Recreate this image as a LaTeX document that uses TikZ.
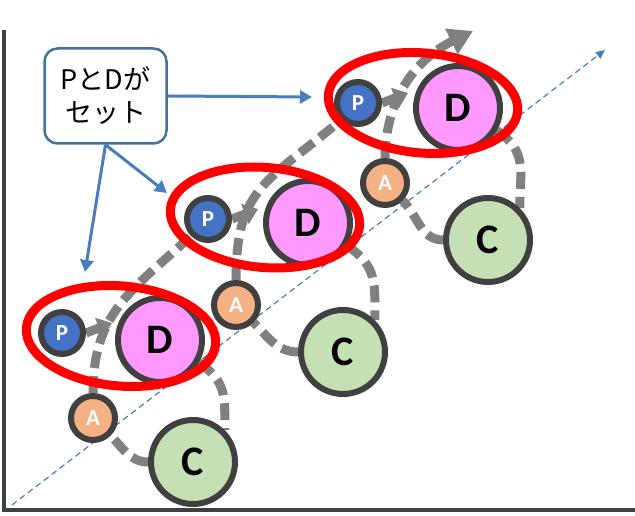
\documentclass[tikz,border=0pt]{standalone}
\usepackage{fontspec}
\setmainfont{Carlito}
\newfontfamily\jpfont{Noto Sans CJK JP}
\usetikzlibrary{arrows.meta, shapes.geometric, backgrounds}
\definecolor{pblue}{HTML}{4472C4}
\definecolor{dpink}{HTML}{FF99FF}
\definecolor{aorange}{HTML}{F4B183}
\definecolor{cgreen}{HTML}{C5E0B4}
\definecolor{rim}{HTML}{404040}
\definecolor{flowgray}{HTML}{808080}
\definecolor{noteblue}{HTML}{41719C}
\definecolor{arrowblue}{HTML}{4A7EBB}

\begin{document}
\begin{tikzpicture}[x=1pt, y=1pt,
	ball/.style={circle, draw=rim, line width=6pt, inner sep=0pt},
	smallball/.style={ball, minimum size=42pt, text=white, font=\bfseries\fontsize{23}{23}\selectfont},
	bigball/.style={ball, minimum size=84pt, font=\bfseries\fontsize{42}{42}\selectfont},
	setring/.style={ellipse, draw=red, line width=9pt, minimum width=190pt, minimum height=100pt, inner sep=0pt, rotate=-5},
	flow/.style={draw=flowgray, line width=9pt, dash pattern=on 17pt off 8pt},
	push/.style={draw=flowgray, line width=9pt, -{Triangle[length=14pt, width=21pt]}},
	callout/.style={draw=arrowblue, line width=3pt, -{Triangle[length=12pt, width=13pt]}}]
	\useasboundingbox (0,0) rectangle (635,516);

	% free ends
	\coordinate (ytop) at (4,486);
	\coordinate (orig) at (4,6);
	\coordinate (xend) at (635,6);
	\coordinate (o1) at (12,11);
	\coordinate (o2) at (605,466);
	\coordinate (top) at (473,485);
	\coordinate (j1) at (112,193);
	\coordinate (j2) at (258,307);
	\coordinate (j3) at (408,423);
	\coordinate (t1) at (312,419);
	\coordinate (t2) at (167,323);
	\coordinate (t3) at (85,244);

	% axes
	\draw[rim, line width=4.5pt] (ytop) -- (orig) -- (xend);

	% first set
	\node[smallball, fill=pblue] (P1) at (62,183) {P};
	\node[bigball, fill=dpink] (D1) at (160,176) {D};
	\node[smallball, fill=aorange, minimum size=44pt] (A1) at (93,98) {A};
	\node[bigball, fill=cgreen] (C1) at (193,54) {C};

	% second set
	\node[smallball, fill=pblue] (P2) at (208,297) {P};
	\node[bigball, fill=dpink] (D2) at (308,293) {D};
	\node[smallball, fill=aorange, minimum size=44pt] (A2) at (236,211) {A};
	\node[bigball, fill=cgreen] (C2) at (343,164) {C};

	% third set
	\node[smallball, fill=pblue] (P3) at (358,413) {P};
	\node[bigball, fill=dpink] (D3) at (458,408) {D};
	\node[smallball, fill=aorange, minimum size=44pt] (A3) at (385,333) {A};
	\node[bigball, fill=cgreen] (C3) at (488,276) {C};

	\node[setring] (S1) at (121,180) {};
	\node[setring] (S2) at (265,298.5) {};
	\node[setring] (S3) at (423,413) {};

	\begin{scope}[on background layer]
		\draw[arrowblue, line width=1.2pt, dash pattern=on 6pt off 4pt, -{Triangle[length=9pt, width=8pt]}] (o1) -- (o2);

		\draw[flow] (D1.-30) to[out=-35, in=90, looseness=1.2] (C1.45);
		\draw[flow] (C1.180) to[out=180, in=-45] (A1.-45);
		\draw[flow] (A1.north) .. controls +(0,80) and +(-60,-55) .. (P2.225);
		\draw[push] (P1.east) -- (j1);

		\draw[flow] (D2.-30) to[out=-35, in=90, looseness=1.2] (C2.45);
		\draw[flow] (C2.180) to[out=180, in=-45] (A2.-45);
		\draw[flow] (A2.north) .. controls +(0,94) and +(-73,-62) .. (P3.225);
		\draw[push] (P2.east) -- (j2);

		\draw[flow] (D3.-30) to[out=-35, in=90, looseness=1.2] (C3.45);
		\draw[flow] (C3.180) to[out=180, in=-45] (A3.-45);
		\draw[flow, -{Triangle[length=24pt, width=27pt]}] (A3.north) .. controls +(1,72) and +(-45,-22) .. (top);
		\draw[push] (P3.east) -- (j3);
	\end{scope}

	% note box
	\node[draw=noteblue, line width=2.5pt, rounded corners=13pt, fill=white, minimum width=122pt, minimum height=95pt, align=center, font=\jpfont\fontsize{27}{33}\selectfont] (note) at (105.5,420) {PとDが\\セット};
	\draw[callout] (note.east) -- (t1);
	\draw[callout] (note.south) -- (t2);
	\draw[callout] (note.south) -- (t3);
\end{tikzpicture}
\end{document}
